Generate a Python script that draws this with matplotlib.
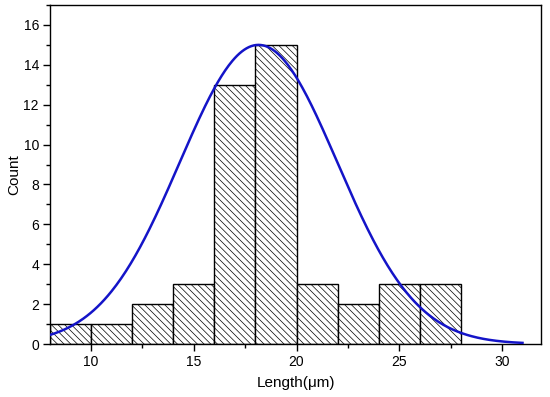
import numpy as np
import matplotlib
matplotlib.use("Agg")
import matplotlib.pyplot as plt
from matplotlib.ticker import MultipleLocator

plt.rcParams['font.family'] = ['Liberation Sans', 'DejaVu Sans']
plt.rcParams['hatch.linewidth'] = 0.5

bin_edges = [8, 10, 12, 14, 16, 18, 20, 22, 24, 26, 28]
counts = [1, 1, 2, 3, 13, 15, 3, 2, 3, 3]
fit_amp = 15.0
fit_center = 18.15
fit_sigma = 3.84
fit_range = (8.0, 31.0)

fig = plt.figure(figsize=(5.5, 3.97), dpi=100)
ax = fig.add_axes([50/550, 53/397, 491/550, 339/397])

lefts = bin_edges[:-1]
widths = np.diff(bin_edges)
ax.bar(lefts, counts, width=widths, align='edge', color='white',
       edgecolor='black', linewidth=1.0, hatch='\\' * 5, zorder=2)

xs = np.linspace(fit_range[0], fit_range[1], 400)
ys = fit_amp * np.exp(-(xs - fit_center) ** 2 / (2 * fit_sigma ** 2))
ax.plot(xs, ys, color='#1414c8', linewidth=1.8, zorder=3)

ax.set_xlim(8, 31.9)
ax.set_ylim(0, 17)
ax.xaxis.set_major_locator(MultipleLocator(5))
ax.xaxis.set_minor_locator(MultipleLocator(2.5))
ax.yaxis.set_major_locator(MultipleLocator(2))
ax.yaxis.set_minor_locator(MultipleLocator(1))
ax.tick_params(which='both', direction='out', top=False, right=False, labelsize=10)
ax.tick_params(which='major', length=5, width=1, pad=3)
ax.tick_params(which='minor', length=3, width=1)
for s in ax.spines.values():
    s.set_linewidth(1.0)

ax.set_xlabel('Length(μm)', fontsize=11)
ax.set_ylabel('Count', fontsize=11)
ax.xaxis.set_label_coords(0.5, -0.095)
ax.yaxis.set_label_coords(-0.058, 0.5)

fig.savefig('out.png', dpi=100)
